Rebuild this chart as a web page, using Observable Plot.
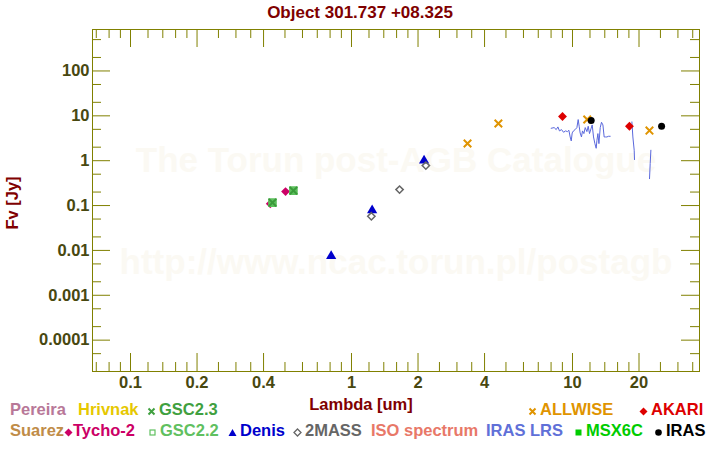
<!DOCTYPE html>
<html>
<head>
<meta charset="utf-8">
<script src="https://cdn.jsdelivr.net/npm/d3@7"></script>
<script src="https://cdn.jsdelivr.net/npm/@observablehq/plot@0.6"></script>
<style>
  body { margin: 0; background: #fff; }
  #wrap { position: relative; width: 720px; height: 450px; overflow: hidden; font-family: "Liberation Sans", Arial, sans-serif; font-weight: bold; }
  .lab { position: absolute; white-space: nowrap; font-size: 16.5px; line-height: 20px; }
  .sym { display: inline-block; vertical-align: -1px; }
</style>
</head>
<body>
<div id="wrap"></div>
<script>
// ---- data ----
const titleText = "Object 301.737 +08.325";
const xTicksMajor = [0.1, 0.2, 0.4, 1, 2, 4, 10, 20];
const xTickLabels = ["0.1", "0.2", "0.4", "1", "2", "4", "10", "20"];
const xTicksMinor = [0.07, 0.08, 0.09, 0.12, 0.14, 0.16, 0.18, 0.25, 0.3, 0.35, 0.5, 0.6, 0.7, 0.8, 0.9,
  1.2, 1.4, 1.6, 1.8, 2.5, 3, 3.5, 5, 6, 7, 8, 9, 12, 14, 16, 18, 25, 30, 35];
const yTicksMajor = [1e-4, 1e-3, 0.01, 0.1, 1, 10, 100];
const yTickLabels = ["0.0001", "0.001", "0.01", "0.1", "1", "10", "100"];
const yTicksMinor = [2e-5, 5e-5, 2e-4, 5e-4, 2e-3, 5e-3, 0.02, 0.05, 0.2, 0.5, 2, 5, 20, 50, 200, 500];

// photometry (lambda [um], Fv [Jy])
const tycho2 = [[0.429, 0.110], [0.503, 0.2045]];
const gsc23 = [[0.439, 0.116], [0.546, 0.215]];
const gsc22 = [[0.439, 0.116], [0.546, 0.215]];
const denis = [[0.809, 0.00748], [1.24, 0.0782], [2.13, 1.005]];
const twomass = [[1.23, 0.0575], [1.65, 0.2265], [2.17, 0.777]];
const allwise = [[3.35, 2.41], [4.62, 6.73], [11.66, 8.26], [22.3, 4.69]];
const akari = [[9.01, 9.64], [18.1, 5.85]];
const iras = [[12.15, 7.85], [25.3, 5.85]];

// IRAS LRS spectrum segments
const lrsBlue = [
  [8.01, 5.28], [8.26, 5.47], [8.44, 4.93], [8.59, 5.66], [8.73, 4.61], [8.92, 4.93], [9.11, 4.30],
  [9.30, 4.61], [9.49, 4.45], [9.63, 4.77], [9.76, 3.38], [9.87, 2.76], [9.97, 4.16], [10.1, 4.61],
  [10.28, 4.93], [10.47, 5.47], [10.61, 8.25], [10.72, 5.85], [10.83, 4.16], [10.98, 3.38], [11.10, 4.61],
  [11.26, 4.02], [11.42, 5.47], [11.62, 4.45], [11.78, 5.85], [11.94, 4.02], [12.12, 5.11], [12.28, 6.27],
  [12.45, 3.38], [12.63, 2.40], [12.80, 1.89], [12.90, 2.85], [13.03, 4.02], [13.17, 2.40], [13.35, 5.47],
  [13.53, 7.19], [13.73, 6.27], [13.91, 3.38], [14.10, 3.38], [14.31, 3.38], [14.55, 3.50], [14.81, 3.50]
];
const lrsRed1 = [[18.57, 7.31], [18.76, 3.38], [19.02, 1.71], [19.08, 1.06]];
const lrsRed2 = [[22.63, 1.71], [22.47, 0.86], [22.31, 0.398]];

// legend entries: text, colour, marker kind, left, centre-y
const legendRows = [
  {t: "Pereira", c: "#b87898", x: 10, y: 409},
  {t: "Hrivnak", c: "#e6c800", x: 78, y: 409},
  {m: "times", t: "GSC2.3", c: "#40a040", x: 147, y: 409},
  {m: "times", t: "ALLWISE", c: "#e09400", x: 528, y: 409},
  {m: "diamond", t: "AKARI", c: "#dd0000", x: 639, y: 409},
  {t: "Suarez", c: "#c08c48", x: 10, y: 430},
  {m: "diamond", t: "Tycho-2", c: "#cc0066", x: 64, y: 430, tight: true},
  {m: "square", t: "GSC2.2", c: "#60c060", x: 148, y: 430},
  {m: "triangle", t: "Denis", c: "#0000cc", x: 228, y: 430},
  {m: "odiamond", t: "2MASS", c: "#666666", x: 293, y: 430},
  {t: "ISO spectrum", c: "#e87868", x: 371, y: 430},
  {t: "IRAS LRS", c: "#6070d8", x: 486, y: 430},
  {m: "fsquare", t: "MSX6C", c: "#00cc00", x: 574, y: 430},
  {m: "circle", t: "IRAS", c: "#000000", x: 654, y: 430}
];

// ---- chart ----
const W = 720, H = 450, mT = 29, mR = 21, mB = 79, mL = 92;
const pw = W - mL - mR, ph = H - mT - mB;
const olive = "#808000", tickText = "#484810", wm = "#fbf9f3";

const chart = Plot.plot({
  width: W, height: H,
  marginTop: mT, marginRight: mR, marginBottom: mB, marginLeft: mL,
  x: {type: "log", domain: [0.0673, 37.56], axis: null},
  y: {type: "log", domain: [2e-5, 840], axis: null},
  style: {fontFamily: "'Liberation Sans', Arial, sans-serif", background: "white", overflow: "visible"},
  marks: [
    Plot.text(["The Torun post-AGB Catalogue"], {frameAnchor: "middle", dy: -40, text: d => d, fontSize: 35, fontWeight: "bold", fill: wm}),
    Plot.text(["http://www.ncac.torun.pl/postagb"], {frameAnchor: "middle", dy: 62, text: d => d, fontSize: 35, fontWeight: "bold", fill: wm}),
    Plot.frame({stroke: olive}),
    Plot.tickX(xTicksMajor, {x: d => d, insetTop: ph - 18, stroke: olive}),
    Plot.tickX(xTicksMajor, {x: d => d, insetBottom: ph - 18, stroke: olive}),
    Plot.tickX(xTicksMinor, {x: d => d, insetTop: ph - 9, stroke: olive}),
    Plot.tickX(xTicksMinor, {x: d => d, insetBottom: ph - 9, stroke: olive}),
    Plot.tickY(yTicksMajor, {y: d => d, insetRight: pw - 18, stroke: olive}),
    Plot.tickY(yTicksMajor, {y: d => d, insetLeft: pw - 18, stroke: olive}),
    Plot.tickY(yTicksMinor, {y: d => d, insetRight: pw - 9, stroke: olive}),
    Plot.tickY(yTicksMinor, {y: d => d, insetLeft: pw - 9, stroke: olive}),
    Plot.text(xTicksMajor, {x: d => d, frameAnchor: "bottom", dy: 5, lineAnchor: "top", text: (d, i) => xTickLabels[i], fontSize: 16.5, fontWeight: "bold", fill: tickText}),
    Plot.text(yTicksMajor, {y: d => d, frameAnchor: "left", dx: -3, textAnchor: "end", text: (d, i) => yTickLabels[i], fontSize: 16.5, fontWeight: "bold", fill: tickText}),
    Plot.line(lrsBlue, {x: d => d[0], y: d => d[1], stroke: "#5a68dc", strokeWidth: 1}),
    Plot.line(lrsRed1, {x: d => d[0], y: d => d[1], stroke: "#5a68dc", strokeWidth: 1}),
    Plot.line(lrsRed2, {x: d => d[0], y: d => d[1], stroke: "#5a68dc", strokeWidth: 1}),
    Plot.dot(tycho2, {x: d => d[0], y: d => d[1], symbol: "diamond2", r: 4, fill: "#cc0066"}),
    Plot.dot(gsc22, {x: d => d[0], y: d => d[1], symbol: "square", r: 4, fill: "#5cbf5c", stroke: "#5cbf5c"}),
    Plot.dot(gsc23, {x: d => d[0], y: d => d[1], symbol: "times", r: 3.5, stroke: "#3a9a3a", strokeWidth: 2}),
    Plot.dot(denis, {x: d => d[0], y: d => d[1], symbol: "triangle", r: 3.8, fill: "#0000cc"}),
    Plot.dot(twomass, {x: d => d[0], y: d => d[1], symbol: "diamond2", r: 3.3, fill: "none", stroke: "#666666", strokeWidth: 1.5}),
    Plot.dot(allwise, {x: d => d[0], y: d => d[1], symbol: "times", r: 3.5, stroke: "#e09400", strokeWidth: 2}),
    Plot.dot(akari, {x: d => d[0], y: d => d[1], symbol: "diamond2", r: 4, fill: "#dd0000"}),
    Plot.dot(iras, {x: d => d[0], y: d => d[1], symbol: "circle", r: 3.5, fill: "#000000"})
  ]
});

const wrap = document.getElementById("wrap");
wrap.appendChild(chart);

function addLabel(html, color, left, cy, extra) {
  const el = document.createElement("div");
  el.className = "lab";
  el.style.color = color;
  el.style.left = left + "px";
  el.style.top = (cy - 10) + "px";
  if (extra) Object.assign(el.style, extra);
  el.innerHTML = html;
  wrap.appendChild(el);
  return el;
}
function markerSvg(kind, c, tight) {
  const shapes = {
    times: `<path d="M1.5,1.5L7.5,7.5M7.5,1.5L1.5,7.5" stroke="${c}" stroke-width="2" fill="none"/>`,
    diamond: `<path d="M4.5,0.5L8.5,4.5L4.5,8.5L0.5,4.5Z" fill="${c}"/>`,
    square: `<rect x="2" y="2" width="5" height="5" fill="none" stroke="${c}" stroke-width="1.2"/>`,
    triangle: `<path d="M4.5,1L8.5,8L0.5,8Z" fill="${c}"/>`,
    odiamond: `<path d="M4.5,1L8,4.5L4.5,8L1,4.5Z" fill="none" stroke="${c}" stroke-width="1.3"/>`,
    fsquare: `<rect x="1.5" y="1.5" width="6" height="6" fill="${c}"/>`,
    circle: `<circle cx="4.5" cy="4.5" r="3.3" fill="${c}"/>`
  };
  return `<svg class="sym" width="9" height="9" viewBox="0 0 9 9" style="margin-right:${tight ? 0 : 3}px">${shapes[kind]}</svg>`;
}
addLabel(titleText, "#800000", 360, 13, {transform: "translateX(-50%)", fontSize: "17px"});
addLabel("Lambda [um]", "#800000", 361, 404, {transform: "translateX(-50%)"});
addLabel("Fv [Jy]", "#800000", 12, 203, {transform: "translate(-50%, 0) rotate(-90deg)", transformOrigin: "50% 50%"});
for (const r of legendRows) {
  addLabel((r.m ? markerSvg(r.m, r.c, r.tight) : "") + r.t, r.c, r.x, r.y);
}
</script>
</body>
</html>
